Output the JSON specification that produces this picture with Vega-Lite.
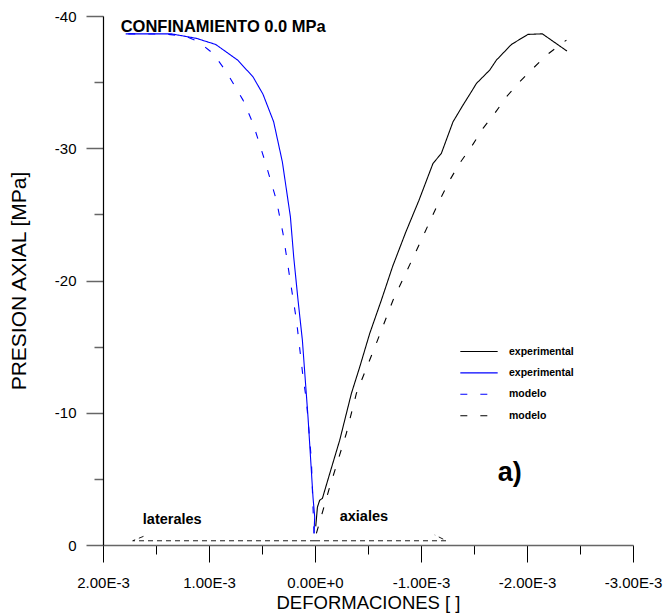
{
  "$schema": "https://vega.github.io/schema/vega-lite/v6.json",
  "width": 530,
  "height": 529,
  "autosize": "none",
  "padding": {"left": 103, "top": 16, "right": 33, "bottom": 68},
  "background": "white",
  "config": {"view": {"stroke": null}, "font": "Liberation Sans"},
  "datasets": {
    "curves": [
      {"serie": "exp_lateral", "i": 0, "def": 0.000009, "presion": -0.88},
      {"serie": "exp_lateral", "i": 1, "def": 0.000003, "presion": -2.12},
      {"serie": "exp_lateral", "i": 2, "def": 0.000019, "presion": -3.63},
      {"serie": "exp_lateral", "i": 3, "def": 0.000066, "presion": -9.68},
      {"serie": "exp_lateral", "i": 4, "def": 0.000119, "presion": -15.48},
      {"serie": "exp_lateral", "i": 5, "def": 0.00016, "presion": -18.51},
      {"serie": "exp_lateral", "i": 6, "def": 0.000201, "presion": -21.79},
      {"serie": "exp_lateral", "i": 7, "def": 0.000232, "presion": -24.81},
      {"serie": "exp_lateral", "i": 8, "def": 0.000308, "presion": -28.97},
      {"serie": "exp_lateral", "i": 9, "def": 0.00039, "presion": -32.0},
      {"serie": "exp_lateral", "i": 10, "def": 0.000491, "presion": -34.09},
      {"serie": "exp_lateral", "i": 11, "def": 0.000585, "presion": -35.4},
      {"serie": "exp_lateral", "i": 12, "def": 0.000729, "presion": -36.66},
      {"serie": "exp_lateral", "i": 13, "def": 0.000937, "presion": -37.85},
      {"serie": "exp_lateral", "i": 14, "def": 0.001119, "presion": -38.31},
      {"serie": "exp_lateral", "i": 15, "def": 0.001355, "presion": -38.65},
      {"serie": "exp_lateral", "i": 16, "def": 0.001786, "presion": -38.65},

      {"serie": "mod_lateral", "i": 0, "def": 0.000009, "presion": -0.88},
      {"serie": "mod_lateral", "i": 1, "def": 0.000019, "presion": -2.87},
      {"serie": "mod_lateral", "i": 2, "def": 0.000034, "presion": -6.41},
      {"serie": "mod_lateral", "i": 3, "def": 0.000081, "presion": -10.95},
      {"serie": "mod_lateral", "i": 4, "def": 0.000113, "presion": -12.71},
      {"serie": "mod_lateral", "i": 5, "def": 0.000175, "presion": -17.0},
      {"serie": "mod_lateral", "i": 6, "def": 0.000239, "presion": -20.27},
      {"serie": "mod_lateral", "i": 7, "def": 0.000302, "presion": -23.56},
      {"serie": "mod_lateral", "i": 8, "def": 0.000364, "presion": -26.07},
      {"serie": "mod_lateral", "i": 9, "def": 0.000475, "presion": -29.1},
      {"serie": "mod_lateral", "i": 10, "def": 0.000585, "presion": -31.88},
      {"serie": "mod_lateral", "i": 11, "def": 0.000679, "presion": -33.64},
      {"serie": "mod_lateral", "i": 12, "def": 0.000836, "presion": -35.78},
      {"serie": "mod_lateral", "i": 13, "def": 0.000962, "presion": -37.17},
      {"serie": "mod_lateral", "i": 14, "def": 0.001107, "presion": -38.1},
      {"serie": "mod_lateral", "i": 15, "def": 0.001229, "presion": -38.48},
      {"serie": "mod_lateral", "i": 16, "def": 0.001418, "presion": -38.64},
      {"serie": "mod_lateral", "i": 17, "def": 0.001786, "presion": -38.65},

      {"serie": "exp_axial", "i": 0, "def": -0.000007, "presion": -1.41},
      {"serie": "exp_axial", "i": 1, "def": -0.000023, "presion": -2.87},
      {"serie": "exp_axial", "i": 2, "def": -0.000044, "presion": -3.38},
      {"serie": "exp_axial", "i": 3, "def": -0.00007, "presion": -3.53},
      {"serie": "exp_axial", "i": 4, "def": -0.000139, "presion": -5.4},
      {"serie": "exp_axial", "i": 5, "def": -0.000233, "presion": -7.92},
      {"serie": "exp_axial", "i": 6, "def": -0.000343, "presion": -11.45},
      {"serie": "exp_axial", "i": 7, "def": -0.000422, "presion": -13.46},
      {"serie": "exp_axial", "i": 8, "def": -0.000516, "presion": -15.99},
      {"serie": "exp_axial", "i": 9, "def": -0.000626, "presion": -18.51},
      {"serie": "exp_axial", "i": 10, "def": -0.000733, "presion": -21.08},
      {"serie": "exp_axial", "i": 11, "def": -0.000856, "presion": -23.65},
      {"serie": "exp_axial", "i": 12, "def": -0.000981, "presion": -26.07},
      {"serie": "exp_axial", "i": 13, "def": -0.001113, "presion": -28.85},
      {"serie": "exp_axial", "i": 14, "def": -0.001192, "presion": -29.61},
      {"serie": "exp_axial", "i": 15, "def": -0.001302, "presion": -32.0},
      {"serie": "exp_axial", "i": 16, "def": -0.001396, "presion": -33.26},
      {"serie": "exp_axial", "i": 17, "def": -0.001475, "presion": -34.27},
      {"serie": "exp_axial", "i": 18, "def": -0.001523, "presion": -34.9},
      {"serie": "exp_axial", "i": 19, "def": -0.001648, "presion": -35.91},
      {"serie": "exp_axial", "i": 20, "def": -0.001711, "presion": -36.66},
      {"serie": "exp_axial", "i": 21, "def": -0.001853, "presion": -37.85},
      {"serie": "exp_axial", "i": 22, "def": -0.002009, "presion": -38.61},
      {"serie": "exp_axial", "i": 23, "def": -0.002145, "presion": -38.65},
      {"serie": "exp_axial", "i": 24, "def": -0.002377, "presion": -37.35},

      {"serie": "mod_axial", "i": 0, "def": -0.000013, "presion": -0.88},
      {"serie": "mod_axial", "i": 1, "def": -0.000139, "presion": -4.39},
      {"serie": "mod_axial", "i": 2, "def": -0.000296, "presion": -8.45},
      {"serie": "mod_axial", "i": 3, "def": -0.000391, "presion": -11.48},
      {"serie": "mod_axial", "i": 4, "def": -0.000579, "presion": -15.26},
      {"serie": "mod_axial", "i": 5, "def": -0.000736, "presion": -18.51},
      {"serie": "mod_axial", "i": 6, "def": -0.000957, "presion": -22.27},
      {"serie": "mod_axial", "i": 7, "def": -0.001176, "presion": -26.07},
      {"serie": "mod_axial", "i": 8, "def": -0.001271, "presion": -27.58},
      {"serie": "mod_axial", "i": 9, "def": -0.001365, "presion": -28.87},
      {"serie": "mod_axial", "i": 10, "def": -0.001475, "presion": -30.11},
      {"serie": "mod_axial", "i": 11, "def": -0.001585, "presion": -31.5},
      {"serie": "mod_axial", "i": 12, "def": -0.001695, "presion": -32.63},
      {"serie": "mod_axial", "i": 13, "def": -0.001806, "presion": -33.89},
      {"serie": "mod_axial", "i": 14, "def": -0.001931, "presion": -35.02},
      {"serie": "mod_axial", "i": 15, "def": -0.002057, "presion": -36.04},
      {"serie": "mod_axial", "i": 16, "def": -0.002183, "presion": -37.04},
      {"serie": "mod_axial", "i": 17, "def": -0.002372, "presion": -38.18}
    ],
    "arrows": [
      {"flecha": "laterales", "i": 0, "def": 0.0, "presion": -0.32},
      {"flecha": "laterales", "i": 1, "def": 0.00172, "presion": -0.32},
      {"flecha": "laterales", "i": 2, "def": 0.00161, "presion": -0.68},
      {"flecha": "axiales", "i": 0, "def": 0.0, "presion": -0.32},
      {"flecha": "axiales", "i": 1, "def": -0.00124, "presion": -0.32},
      {"flecha": "axiales", "i": 2, "def": -0.00113, "presion": -0.76}
    ]
  },
  "layer": [
    {
      "data": {"name": "arrows"},
      "mark": {"type": "line", "color": "black", "strokeWidth": 0.9, "strokeDash": [5, 4]},
      "encoding": {
        "x": {"field": "def", "type": "quantitative"},
        "y": {"field": "presion", "type": "quantitative"},
        "detail": {"field": "flecha", "type": "nominal"},
        "order": {"field": "i", "type": "quantitative"}
      }
    },
    {
      "data": {"name": "curves"},
      "mark": {"type": "line", "strokeWidth": 1.1},
      "encoding": {
        "x": {
          "field": "def", "type": "quantitative", "title": "DEFORMACIONES [ ]",
          "scale": {"domain": [-0.003, 0.002], "reverse": true, "nice": false, "zero": false},
          "axis": {
            "values": [0.002, 0.0015, 0.001, 0.0005, 0, -0.0005, -0.001, -0.0015, -0.002, -0.0025, -0.003],
            "labelExpr": "abs(round(datum.value*10000)) % 10 == 0 ? replace(replace(format(datum.value, '.2e'), 'e', 'E'), '\u2212', '-') : ''",
            "tickSize": {"condition": {"test": "abs(round(datum.value*10000)) % 10 != 0", "value": 9}, "value": 17},
            "grid": false, "domainColor": "#666666", "domainWidth": 1.5, "tickColor": "black", "tickWidth": 1,
            "labelFont": "Liberation Sans", "labelFontSize": 15, "labelColor": "black", "labelPadding": 13,
            "labelFlush": false, "labelOverlap": false, "labelBound": false,
            "titleFont": "Liberation Sans", "titleFontSize": 18.5, "titleFontWeight": "normal", "titleColor": "black", "titlePadding": 3
          }
        },
        "y": {
          "field": "presion", "type": "quantitative", "title": "PRESION AXIAL [MPa]",
          "scale": {"domain": [-40, 0], "reverse": true, "nice": false, "zero": false},
          "axis": {
            "values": [0, -5, -10, -15, -20, -25, -30, -35, -40],
            "labelExpr": "datum.value % 10 == 0 ? '' + datum.value : ''",
            "tickSize": {"condition": {"test": "datum.value % 10 != 0", "value": 9}, "value": 17},
            "grid": false, "domainColor": "black", "domainWidth": 1.2, "tickColor": "#666666", "tickWidth": 1.5,
            "labelFont": "Liberation Sans", "labelFontSize": 15, "labelColor": "black", "labelPadding": 10,
            "labelFlush": false, "labelOverlap": false, "labelBound": false,
            "titleFont": "Liberation Sans", "titleFontSize": 21, "titleFontWeight": "normal", "titleColor": "black", "titlePadding": 25
          }
        },
        "color": {
          "field": "serie", "type": "nominal",
          "scale": {"domain": ["exp_axial", "exp_lateral", "mod_lateral", "mod_axial"], "range": ["#000000", "#0000ff", "#0000ff", "#000000"]},
          "legend": {
            "orient": "none", "legendX": 369, "legendY": 328.5, "title": null, "padding": 0,
            "symbolType": "M-3,0H3", "symbolSize": 155, "symbolStrokeWidth": 1.1,
            "labelFont": "Liberation Sans", "labelFontSize": 10.5, "labelFontWeight": "bold", "labelColor": "black",
            "labelExpr": "indexof(datum.label, 'exp') >= 0 ? 'experimental' : 'modelo'",
            "rowPadding": 8.4, "labelOffset": 23
          }
        },
        "strokeDash": {
          "field": "serie", "type": "nominal",
          "scale": {"domain": ["exp_axial", "exp_lateral", "mod_lateral", "mod_axial"], "range": [[1, 0], [1, 0], [7, 13], [7, 13]]},
          "legend": {
            "orient": "none", "legendX": 369, "legendY": 328.5, "title": null, "padding": 0,
            "symbolType": "M-3,0H3", "symbolSize": 155, "symbolStrokeWidth": 1.1,
            "labelFont": "Liberation Sans", "labelFontSize": 10.5, "labelFontWeight": "bold", "labelColor": "black",
            "labelExpr": "indexof(datum.label, 'exp') >= 0 ? 'experimental' : 'modelo'",
            "rowPadding": 8.4, "labelOffset": 23
          }
        },
        "order": {"field": "i", "type": "quantitative"}
      }
    },
    {
      "data": {"values": [{"def": 0.001833, "presion": -38.8, "texto": "CONFINAMIENTO 0.0 MPa"}]},
      "mark": {"type": "text", "align": "left", "baseline": "alphabetic", "font": "Liberation Sans", "fontSize": 16.5, "fontWeight": "bold", "color": "black"},
      "encoding": {
        "x": {"field": "def", "type": "quantitative"},
        "y": {"field": "presion", "type": "quantitative"},
        "text": {"field": "texto"}
      }
    },
    {
      "data": {"values": [{"def": 0.001347, "presion": -1.57, "texto": "laterales"}, {"def": -0.000461, "presion": -1.82, "texto": "axiales"}]},
      "mark": {"type": "text", "align": "center", "baseline": "alphabetic", "font": "Liberation Sans", "fontSize": 14.5, "fontWeight": "bold", "color": "black"},
      "encoding": {
        "x": {"field": "def", "type": "quantitative"},
        "y": {"field": "presion", "type": "quantitative"},
        "text": {"field": "texto"}
      }
    },
    {
      "data": {"values": [{"def": -0.001837, "presion": -4.85, "texto": "a)"}]},
      "mark": {"type": "text", "align": "center", "baseline": "alphabetic", "font": "Liberation Sans", "fontSize": 27, "fontWeight": "bold", "color": "black"},
      "encoding": {
        "x": {"field": "def", "type": "quantitative"},
        "y": {"field": "presion", "type": "quantitative"},
        "text": {"field": "texto"}
      }
    }
  ]
}
